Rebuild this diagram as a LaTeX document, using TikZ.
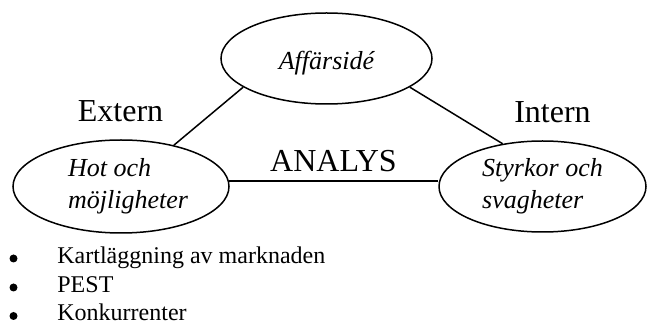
\documentclass[tikz,border=0pt]{standalone}
\usepackage{fontspec}
\setmainfont{Liberation Serif}
\usetikzlibrary{shapes.geometric}
\tikzset{
  idea/.style={ellipse, draw, line width=0.75pt, inner sep=0pt, align=left, font=\fontsize{13}{16}\selectfont\itshape},
  side/.style={anchor=base, font=\fontsize{16}{19}\selectfont},
  link/.style={line width=0.75pt},
  item/.style={anchor=base west, inner sep=0pt, font=\fontsize{12}{14}\selectfont},
  dot/.style={circle, fill, inner sep=0pt, minimum size=4pt}
}

\begin{document}
\begin{tikzpicture}[x=0.5pt, y=-0.5pt]
  \useasboundingbox (0,0) rectangle (647,325);

  \node[idea, minimum width=105.5pt, minimum height=45.5pt, text height=14pt, text depth=3pt] (affar) at (326.5,58.5) {Affärsidé};
  \node[idea, minimum width=108pt, minimum height=46.5pt] (hot) at (121,186.5) {\hspace*{7pt}Hot och\\\hspace*{7pt}möjligheter};
  \node[idea, minimum width=103.5pt, minimum height=45.5pt] (styrkor) at (542.5,186.5) {Styrkor och\\svagheter};

  \draw[link] (hot.38) -- (affar.199);
  \draw[link] (affar.341.6) -- (styrkor.133.6);
  \draw[link] (hot.3) -- (hot.3 -| styrkor.west);

  \node[side] (extern) at (120.5,122) {Extern};
  \node[side] (intern) at (552.5,123) {Intern};
  \node[side] (analys) at (333.5,172) {ANALYS};

  % list below the triangle
  \node[dot] (b1) at (13.5,258.5) {};
  \node[item] (kart) at (57,264) {Kartläggning av marknaden};
  \node[dot] (b2) at (13.5,287.5) {};
  \node[item] (pest) at (57,292.5) {PEST};
  \node[dot] (b3) at (13.5,316) {};
  \node[item] (konk) at (57,321) {Konkurrenter};
\end{tikzpicture}
\end{document}
